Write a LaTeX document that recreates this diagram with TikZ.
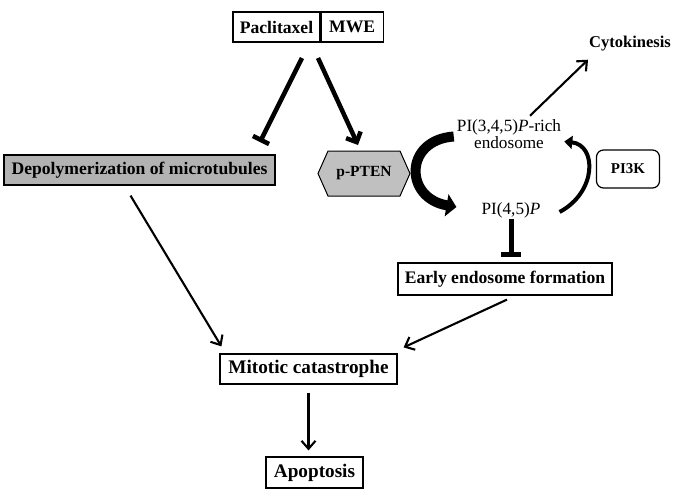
\documentclass[tikz,border=0pt]{standalone}
\usepackage{fontspec}
\setmainfont{Liberation Serif}
\usetikzlibrary{arrows.meta,shapes.symbols}
\definecolor{depgray}{RGB}{178,178,178}
\definecolor{ptengray}{RGB}{192,192,192}

\begin{document}
\begin{tikzpicture}[x=1pt,y=-1pt,
    box/.style={draw,line width=1.2pt,inner sep=1pt,minimum height=30pt,
      font=\bfseries\fontsize{17.6}{19}\selectfont},
    bigbox/.style={box,font=\bfseries\fontsize{19.2}{21}\selectfont},
    lbl/.style={inner sep=1pt,align=center,font=\fontsize{17.2}{17}\selectfont},
    arr/.style={line width=2.1pt,-{Straight Barb[length=8pt,width=14pt]}},
    thickarr/.style={line width=4.5pt,-{Straight Barb[length=8pt,width=16pt]}},
    thickinh/.style={line width=4.5pt,-{Bar[width=18pt]}},
    bigcurve/.style={line width=10pt,-{Triangle[length=10pt,width=22pt]}},
    smallcurve/.style={line width=4pt,-{Triangle[length=8pt,width=13pt]}}]
  \useasboundingbox (0,0) rectangle (675,493);

  \node[box,minimum width=87pt] (pac) at (276.5,27) {Paclitaxel};
  \node[box,minimum width=62pt,anchor=west] (mwe) at (pac.east) {MWE};
  \node[box,fill=depgray,minimum width=271pt] (depol) at (139.5,170)
    {Depolymerization of microtubules};
  \node[draw,shape=signal,signal to=west and east,signal pointer angle=132,
    fill=ptengray,line width=1pt,minimum width=92pt,minimum height=45pt,
    font=\bfseries\fontsize{15.5}{17}\selectfont] (pten) at (364,173.5) {p-PTEN};
  \node[lbl] (pi345) at (509,134.5) {PI(3,4,5)\textit{P}-rich\\endosome};
  \node[lbl] (pi45) at (511,210) {PI(4,5)\textit{P}};
  \node[box,rounded corners=7pt,minimum width=63pt,minimum height=38pt,
    font=\bfseries\fontsize{15}{17}\selectfont] (pi3k) at (628,169) {PI3K};
  \node[lbl,font=\bfseries\fontsize{16.5}{17}\selectfont] (cyto) at (630,44) {Cytokinesis};
  \node[box,minimum width=214pt,minimum height=32pt] (early) at (505,279)
    {Early endosome formation};
  \node[bigbox,minimum width=177pt] (mito) at (308.5,369) {Mitotic catastrophe};
  \node[bigbox,minimum width=97pt,minimum height=31pt] (apo) at (314.5,472.5) {Apoptosis};

  \coordinate (s1) at (302,58);
  \coordinate (s2) at (318,58);
  \coordinate (e1) at (260,142);
  \coordinate (e2) at (358,145);

  \draw[thickinh] (s1) -- (e1);
  \draw[thickarr] (s2) -- (e2);
  \draw[arr] ([xshift=-9pt,yshift=-10pt]depol.south) -- ([xshift=2pt,yshift=7pt]mito.north west);
  \draw[arr] ([xshift=2pt,yshift=-4pt]early.south) -- ([xshift=6pt,yshift=6pt]mito.north east);
  \draw[arr,shorten <=8pt,shorten >=6pt] (mito) -- (mito |- apo.north);
  \draw[arr] ([xshift=21pt,yshift=3pt]pi345.north) -- ([yshift=-7pt]cyto.south west);
  \draw[line width=5pt,-{Bar[width=20pt]},shorten >=5pt] (pi45) -- (pi45 |- early.north);
  \draw[bigcurve] ([xshift=-2pt,yshift=-2pt]pi345.west) .. controls (404,140) and (404,198)
    .. ([xshift=-24pt,yshift=3pt]pi45.west);
  \draw[smallcurve] ([xshift=18pt,yshift=-2pt]pi45.east) .. controls (597,192) and (597,145)
    .. ([xshift=2pt,yshift=-7pt]pi345.east);
\end{tikzpicture}
\end{document}
